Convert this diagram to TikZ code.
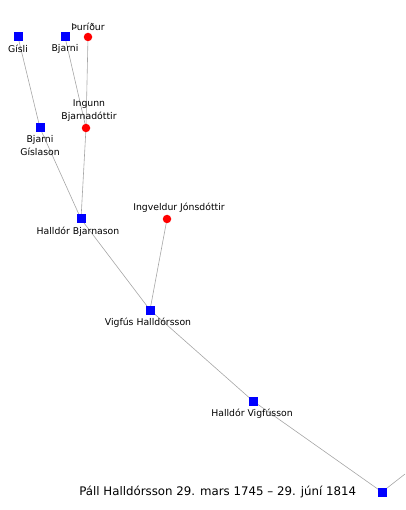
\documentclass[tikz,border=0pt]{standalone}
\usepackage{fontspec}
\setmainfont{DejaVu Sans}
\usepackage{xcolor}
\usepackage{tikz}
\usetikzlibrary{backgrounds}

\begin{document}
\begin{tikzpicture}[
  x=1pt, y=-1pt,
  man/.style={draw=none, fill=blue, minimum size=9pt, inner sep=0pt},
  woman/.style={circle, fill=red, minimum size=8.5pt, inner sep=0pt},
  lbl/.style={font=\fontsize{9.3}{12.5}\selectfont, align=center, inner sep=1pt, label distance=0pt},
  under/.style={lbl, yshift=-2pt},
  over/.style={lbl, yshift=1pt},
  link/.style={draw=gray!70, line width=0.6pt}
]
\useasboundingbox (0,0) rectangle (405,510);
\node[man, label={[under]below:Gísli}] (gisli) at (18,37) {};
\node[man, label={[under]below:Bjarni}] (bjarni) at (65,37) {};
\node[woman, label={[over]above:Þuríður}] (thuridur) at (88,37) {};
\node[woman, label={[over, xshift=3pt]above:Ingunn\\Bjarnadóttir}] (ingunn) at (86,128) {};
\node[man, label={[under]below:Bjarni\\Gíslason}] (bjarnig) at (40,128) {};
\node[man, label={[under, xshift=-3pt]below:Halldór Bjarnason}] (halldorb) at (81,219) {};
\node[woman, label={[over, xshift=12pt]above:Ingveldur Jónsdóttir}] (ingveldur) at (167,219) {};
\node[man, label={[under, xshift=-2pt]below:Vigfús Halldórsson}] (vigfus) at (150,310) {};
\node[man, label={[under, xshift=-1pt]below:Halldór Vigfússon}] (halldorv) at (253,401) {};
\node[man, label={[lbl, font=\fontsize{11.8}{14}\selectfont, xshift=-20pt]left:Páll Halldórsson 29. mars 1745 – 29. júní 1814}] (pall) at (382,492) {};
\coordinate (out) at (405,474);
% connectors
\begin{pgfonlayer}{background}
\path[link] (gisli.center) -- (bjarnig.center);
\path[link] (bjarni.center) -- (ingunn.center);
\path[link] (thuridur.center) -- (ingunn.center);
\path[link] (bjarnig.center) -- (halldorb.center);
\path[link] (ingunn.center) -- (halldorb.center);
\path[link] (halldorb.center) -- (vigfus.center);
\path[link] (ingveldur.center) -- (vigfus.center);
\path[link] (vigfus.center) -- (halldorv.center);
\path[link] (halldorv.center) -- (pall.center);
\path[link] (pall.center) -- (out);
\end{pgfonlayer}
\end{tikzpicture}
\end{document}
